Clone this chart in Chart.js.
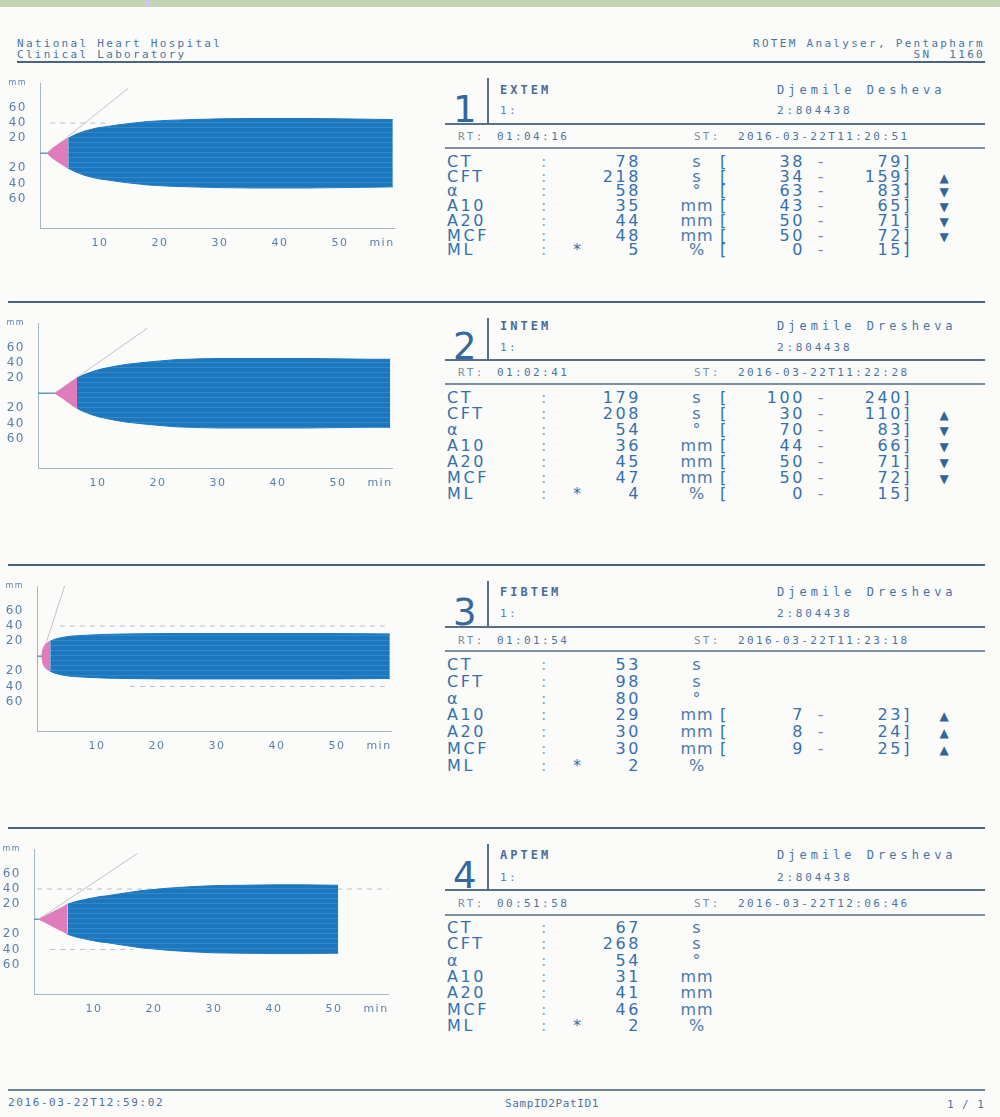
<!DOCTYPE html>
<html>
<head>
<meta charset="utf-8">
<script src="https://cdn.jsdelivr.net/npm/chart.js@4.4.1/dist/chart.umd.min.js"></script>
<style>
  html,body{margin:0;padding:0;}
  body{width:1000px;height:1117px;position:relative;overflow:hidden;background:#fbfbfa;font-family:"DejaVu Sans",sans-serif;color:#3570ad;}
  .a{position:absolute;white-space:pre;line-height:1;}
  canvas{position:absolute;left:0;}
</style>
</head>
<body>
<div class="a" style="left:0;top:0;width:1000px;height:7px;background:#c3d3b5"></div>
<div class="a" style="left:145px;top:0;width:5px;height:7px;background:#cdc6ea"></div>
<canvas id="c0" width="420" height="190"></canvas>
<canvas id="c1" width="420" height="190"></canvas>
<canvas id="c2" width="420" height="190"></canvas>
<canvas id="c3" width="420" height="190"></canvas>
<script>
// ---------------- DATA ----------------
const hospitalLines = ['National Heart Hospital', 'Clinical Laboratory'];
const analyserLines = ['ROTEM Analyser, Pentapharm', 'SN  1160'];
const footerDate = '2016-03-22T12:59:02';
const footerSample = 'SampID2PatID1';
const footerPage = '1 / 1';

const testNumbers = ['1', '2', '3', '4'];
const testNames = ['EXTEM', 'INTEM', 'FIBTEM', 'APTEM'];
const patientNames = ['Djemile Desheva', 'Djemile Dresheva', 'Djemile Dresheva', 'Djemile Dresheva'];
const sampleIds = ['2:804438', '2:804438', '2:804438', '2:804438'];
const runTimes = ['01:04:16', '01:02:41', '01:01:54', '00:51:58'];
const startTimes = ['2016-03-22T11:20:51', '2016-03-22T11:22:28', '2016-03-22T11:23:18', '2016-03-22T12:06:46'];

const paramLabels = ['CT', 'CFT', 'α', 'A10', 'A20', 'MCF', 'ML'];
const paramUnits = ['s', 's', '°', 'mm', 'mm', 'mm', '%'];

const extemValues  = [78, 218, 58, 35, 44, 48, 5];
const intemValues  = [179, 208, 54, 36, 45, 47, 4];
const fibtemValues = [53, 98, 80, 29, 30, 30, 2];
const aptemValues  = [67, 268, 54, 31, 41, 46, 2];

const extemRefLow   = [38, 34, 63, 43, 50, 50, 0];
const extemRefHigh  = [79, 159, 83, 65, 71, 72, 15];
const intemRefLow   = [100, 30, 70, 44, 50, 50, 0];
const intemRefHigh  = [240, 110, 83, 66, 71, 72, 15];
const fibtemRefLow  = [null, null, null, 7, 8, 9, null];
const fibtemRefHigh = [null, null, null, 23, 24, 25, null];
const aptemRefLow   = [null, null, null, null, null, null, null];
const aptemRefHigh  = [null, null, null, null, null, null, null];

const extemFlags  = ['', '▲', '▼', '▼', '▼', '▼', ''];
const intemFlags  = ['', '▲', '▼', '▼', '▼', '▼', ''];
const fibtemFlags = ['', '', '', '▲', '▲', '▲', ''];
const aptemFlags  = ['', '', '', '', '', '', ''];

// temogram axes
const xTicks = [10, 20, 30, 40, 50];
const xUnitLabel = 'min';
const yTicks = [60, 40, 20, -20, -40, -60];
const yUnitLabel = 'mm';

// temogram traces: time (min) and amplitude (mm)
const extemPinkTime = [1.2, 2.0, 3.0, 4.0, 4.7];
const extemPinkAmp  = [0, 6, 11.5, 16.5, 20];
const extemBlueTime = [4.7, 6, 7.5, 9.5, 11.3, 13, 15, 18, 21.3, 25, 30, 35, 40, 45, 50, 55, 58.8];
const extemBlueAmp  = [20, 25, 29.5, 33.5, 35.5, 37.5, 39.5, 42, 43.5, 44.5, 45.5, 46, 46, 46, 45.5, 45, 44.5];
const extemTangentTime = [1.2, 14.7];
const extemTangentAmp  = [0, 86];
const extemRefUpper = [1.7, 11];
const extemRefLower = [];

const intemPinkTime = [2.8, 4.0, 5.0, 6.0, 6.5];
const intemPinkAmp  = [0, 6, 12, 17.5, 20];
const intemBlueTime = [6.5, 7.5, 9, 10.5, 13, 15, 18, 20, 23, 27, 30, 35, 40, 45, 50, 55, 58.7];
const intemBlueAmp  = [20, 24, 28.5, 32, 36, 38.5, 41, 42.5, 44.5, 45.5, 46, 46, 46, 46, 45.5, 45, 45];
const intemTangentTime = [2.8, 18.2];
const intemTangentAmp  = [0, 86];
const intemRefUpper = [];
const intemRefLower = [];

const fibtemPinkTime = [0.8, 0.9, 1.1, 1.4, 1.8, 2.2];
const fibtemPinkAmp  = [0, 7, 12, 15.5, 18, 20];
const fibtemBlueTime = [2.2, 3, 4, 5.5, 7.5, 10, 11.8, 15, 20.9, 25, 30, 40, 50, 58.8];
const fibtemBlueAmp  = [20, 22.5, 24.5, 26.5, 27.5, 28.5, 29, 29.5, 30, 30, 30, 30, 30, 29.5];
const fibtemTangentTime = [0.8, 4.6];
const fibtemTangentAmp  = [0, 93];
const fibtemRefUpper = [3.8, 58.8];
const fibtemRefLower = [15.5, 58.8];

const aptemPinkTime = [0.8, 2, 3, 4, 5, 5.6];
const aptemPinkAmp  = [0, 4.5, 9, 13, 17, 20];
const aptemBlueTime = [5.6, 7, 9, 11, 12.2, 15, 18, 22.2, 26, 30, 35, 40, 45, 50.7];
const aptemBlueAmp  = [20, 23.5, 27, 30, 31, 34.5, 38, 41, 43, 44.5, 45, 45.5, 45.5, 45];
const aptemTangentTime = [0.8, 17.2];
const aptemTangentAmp  = [0, 87];
const aptemRefUpper = [0.5, 59];
const aptemRefLower = [2.7, 16.5];

const refLevel = 40;

// ---------------- LAYOUT (positions / styles only) ----------------
const sepY   = [62, 302, 565, 828];
const titleY = [90, 326, 592, 855];
const idY    = [110, 347, 613, 877];
const rule1Y = [124, 360, 627, 890];
const rtY    = [136, 372, 640, 903];
const rule2Y = [148, 384, 651, 915];
const row0Y  = [162, 398, 665, 928];
const rowStep = [14.7, 16, 16.8, 16.3];
const axisX  = [40, 38, 37, 34];

const BLUE = '#1d77bf', PINK = '#e07cbb', AXIS = '#a8b6c4', TICK = '#5a80a8';
const TXT = '#3570ad';

function el(x, y, s, css, align) {
  const d = document.createElement('div');
  d.className = 'a';
  d.textContent = s;
  d.style.cssText += css;
  d.style.left = x + 'px';
  d.style.top = y + 'px';
  let tx = '0';
  if (align === 'right') tx = '-100%';
  if (align === 'center') tx = '-50%';
  d.style.transform = 'translate(' + tx + ',-50%)';
  document.body.appendChild(d);
  return d;
}
function rule(x1, x2, y, w, color) {
  const d = document.createElement('div');
  d.className = 'a';
  d.style.cssText = `left:${x1}px;top:${y - w / 2}px;width:${x2 - x1}px;height:${w}px;background:${color};`;
  document.body.appendChild(d);
}
const monoHdr = 'font-family:"DejaVu Sans Mono",monospace;font-size:11px;letter-spacing:2.3px;color:#4a74a0;';

// header
el(17, 43, hospitalLines[0], monoHdr);
el(17, 54, hospitalLines[1], monoHdr);
el(985, 43, analyserLines[0], monoHdr, 'right');
el(985, 54, analyserLines[1], monoHdr, 'right');

// footer
rule(8, 985, 1090, 2, '#6f8396');
el(8, 1102, footerDate, 'font-family:"DejaVu Sans Mono",monospace;font-size:11px;letter-spacing:1.6px;color:#4a74a0;');
el(505, 1103, footerSample, 'font-family:"DejaVu Sans Mono",monospace;font-size:11px;letter-spacing:0.6px;color:#4a74a0;');
el(985, 1104, footerPage, 'font-family:"DejaVu Sans Mono",monospace;font-size:11px;letter-spacing:1px;color:#4a74a0;', 'right');

const valueSets = [extemValues, intemValues, fibtemValues, aptemValues];
const lowSets = [extemRefLow, intemRefLow, fibtemRefLow, aptemRefLow];
const highSets = [extemRefHigh, intemRefHigh, fibtemRefHigh, aptemRefHigh];
const flagSets = [extemFlags, intemFlags, fibtemFlags, aptemFlags];

const rowFont = 'font-family:"DejaVu Sans",sans-serif;font-size:16px;letter-spacing:2.6px;color:' + TXT + ';';
for (let i = 0; i < 4; i++) {
  rule(i === 0 ? 17 : 8, 985, sepY[i], 2, '#4a6480');
  el(453, (titleY[i] + idY[i]) / 2 + 9, testNumbers[i], 'font-family:"DejaVu Sans",sans-serif;font-size:37px;color:#3468a0;');
  const bar = document.createElement('div');
  bar.className = 'a';
  bar.style.cssText = `left:487px;top:${sepY[i] + 16}px;width:1.5px;height:${rule1Y[i] - sepY[i] - 16}px;background:#52708e;`;
  document.body.appendChild(bar);
  el(500, titleY[i], testNames[i], 'font-family:"DejaVu Sans Mono",monospace;font-size:12px;font-weight:bold;letter-spacing:3px;color:#476d96;');
  el(500, idY[i], '1:', 'font-family:"DejaVu Sans Mono",monospace;font-size:11px;letter-spacing:2.5px;color:#5a80a8;');
  el(777, titleY[i], patientNames[i], 'font-family:"DejaVu Sans Mono",monospace;font-size:12px;letter-spacing:4px;color:#4a74a0;');
  el(777, idY[i], sampleIds[i], 'font-family:"DejaVu Sans Mono",monospace;font-size:11px;letter-spacing:2.8px;color:#4a74a0;');
  rule(445, 985, rule1Y[i], 1.5, '#56708a');
  el(458, rtY[i], 'RT:', 'font-family:"DejaVu Sans Mono",monospace;font-size:11px;letter-spacing:2.2px;color:#7890a8;');
  el(497, rtY[i], runTimes[i], 'font-family:"DejaVu Sans Mono",monospace;font-size:11px;letter-spacing:2.4px;color:#4a74a0;');
  el(694, rtY[i], 'ST:', 'font-family:"DejaVu Sans Mono",monospace;font-size:11px;letter-spacing:2.2px;color:#7890a8;');
  el(738, rtY[i], startTimes[i], 'font-family:"DejaVu Sans Mono",monospace;font-size:11px;letter-spacing:2.4px;color:#4a74a0;');
  rule(445, 985, rule2Y[i], 1.5, '#7d90a3');

  for (let k = 0; k < paramLabels.length; k++) {
    const y = row0Y[i] + k * rowStep[i];
    el(447, y, paramLabels[k], rowFont);
    el(541, y, ':', rowFont + 'color:#8ea6bd;');
    if (k === paramLabels.length - 1) el(573, y, '*', rowFont);
    el(641, y, String(valueSets[i][k]), rowFont, 'right');
    el(697, y, paramUnits[k], rowFont + 'letter-spacing:1px;color:#4a78a8;', 'center');
    if (lowSets[i][k] !== null) {
      el(720, y, '[', rowFont);
      el(805, y, String(lowSets[i][k]), rowFont, 'right');
      el(822, y, '-', rowFont + 'color:#6f8fb0;', 'center');
      el(912, y, String(highSets[i][k]) + ']', rowFont, 'right');
    }
    if (flagSets[i][k]) el(944, y + 1, flagSets[i][k], 'font-family:"DejaVu Sans",sans-serif;font-size:12px;color:#33659c;', 'center');
  }
}

// ---------------- CHARTS ----------------
const traces = [
  {pt: extemPinkTime, pa: extemPinkAmp, bt: extemBlueTime, ba: extemBlueAmp, tt: extemTangentTime, ta: extemTangentAmp, ru: extemRefUpper, rl: extemRefLower},
  {pt: intemPinkTime, pa: intemPinkAmp, bt: intemBlueTime, ba: intemBlueAmp, tt: intemTangentTime, ta: intemTangentAmp, ru: intemRefUpper, rl: intemRefLower},
  {pt: fibtemPinkTime, pa: fibtemPinkAmp, bt: fibtemBlueTime, ba: fibtemBlueAmp, tt: fibtemTangentTime, ta: fibtemTangentAmp, ru: fibtemRefUpper, rl: fibtemRefLower},
  {pt: aptemPinkTime, pa: aptemPinkAmp, bt: aptemBlueTime, ba: aptemBlueAmp, tt: aptemTangentTime, ta: aptemTangentAmp, ru: aptemRefUpper, rl: aptemRefLower},
];

const X_MAX = 59, Y_MIN = -99, Y_MAX = 93, X_UNIT_POS = 57;

function stripePattern(ctx) {
  const pc = document.createElement('canvas');
  pc.width = 4; pc.height = 5;
  const p = pc.getContext('2d');
  p.fillStyle = BLUE; p.fillRect(0, 0, 4, 5);
  p.fillStyle = '#3189c8'; p.fillRect(0, 0, 4, 1);
  return ctx.createPattern(pc, 'repeat');
}

const spacedText = {
  id: 'spacedText',
  beforeDraw(chart) { chart.ctx.letterSpacing = '1.5px'; }
};

for (let i = 0; i < 4; i++) {
  const cv = document.getElementById('c' + i);
  cv.style.top = sepY[i] + 'px';
  const tr = traces[i];
  const pat = stripePattern(cv.getContext('2d'));
  const pts = (ts, as, sign) => ts.map((t, k) => ({x: t, y: sign * as[k]}));
  const datasets = [];
  if (tr.ru.length) datasets.push({data: [{x: tr.ru[0], y: refLevel}, {x: tr.ru[1], y: refLevel}], borderColor: '#b9bfc8', borderWidth: 1, borderDash: [5, 5], fill: false, order: 9});
  if (tr.rl.length) datasets.push({data: [{x: tr.rl[0], y: -refLevel}, {x: tr.rl[1], y: -refLevel}], borderColor: '#b9bfc8', borderWidth: 1, borderDash: [5, 5], fill: false, order: 9});
  datasets.push({data: pts(tr.tt, tr.ta, 1), borderColor: '#cbbfc6', borderWidth: 1, fill: false, order: 8});
  datasets.push({data: [{x: 0, y: 0}, {x: tr.pt[0], y: 0}], borderColor: '#5d9cc6', borderWidth: 1.5, fill: false, order: 7});
  datasets.push({data: pts(tr.pt, tr.pa, 1), borderColor: PINK, backgroundColor: PINK, borderWidth: 1, fill: '+1', order: 2});
  datasets.push({data: pts(tr.pt, tr.pa, -1), borderColor: PINK, borderWidth: 1, fill: false, order: 2});
  datasets.push({data: pts(tr.bt, tr.ba, 1), borderColor: BLUE, backgroundColor: pat, borderWidth: 1, fill: '+1', order: 1});
  datasets.push({data: pts(tr.bt, tr.ba, -1), borderColor: BLUE, borderWidth: 1, fill: false, order: 1});

  new Chart(cv, {
    type: 'line',
    data: {datasets},
    plugins: [spacedText],
    options: {
      animation: false, responsive: false, devicePixelRatio: 1,
      layout: {padding: {top: 21, right: 420 - (axisX[i] + X_MAX * 6), left: 0, bottom: 0}},
      plugins: {legend: {display: false}, tooltip: {enabled: false}},
      elements: {point: {radius: 0}, line: {tension: 0}},
      scales: {
        x: {
          type: 'linear', min: 0, max: X_MAX,
          grid: {display: false},
          border: {display: true, color: AXIS, width: 1},
          afterBuildTicks: s => { s.ticks = xTicks.map(v => ({value: v})).concat([{value: X_UNIT_POS}]); },
          afterFit: s => { s.height = 24; },
          ticks: {autoSkip: false, maxRotation: 0, padding: 1, color: TICK,
                  font: {family: 'DejaVu Sans', size: 11},
                  callback: v => v === X_UNIT_POS ? xUnitLabel : String(v)}
        },
        y: {
          type: 'linear', min: Y_MIN, max: Y_MAX,
          grid: {display: false},
          border: {display: true, color: AXIS, width: 1},
          afterBuildTicks: s => { s.ticks = [{value: Y_MAX}].concat(yTicks.map(v => ({value: v}))); },
          afterFit: s => { s.width = axisX[i]; },
          ticks: {autoSkip: false, padding: 5, color: TICK,
                  font: c => ({family: 'DejaVu Sans', size: (c.tick && c.tick.value === Y_MAX) ? 8 : 12}),
                  callback: v => v === Y_MAX ? yUnitLabel : String(Math.abs(v))}
        }
      }
    }
  });
}
</script>
</body>
</html>
